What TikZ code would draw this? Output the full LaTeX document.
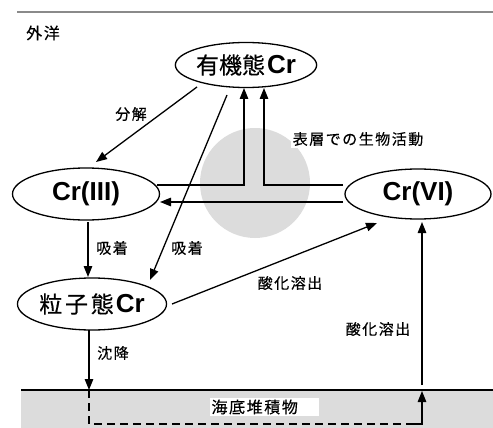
\documentclass[tikz,border=0pt]{standalone}
\usepackage{fontspec}
\setmainfont{Liberation Sans}
\newfontfamily\jp{Noto Sans CJK JP}[FakeBold=0.4]
\newfontfamily\jpl{Noto Sans CJK JP}[LetterSpace=10,FakeBold=0.4]
\usetikzlibrary{arrows.meta,shapes.geometric,calc}
\definecolor{bggray}{HTML}{DCDCDC}
\definecolor{linegray}{HTML}{8A8A8A}
\tikzset{
  ell/.style={ellipse, draw=black, line width=1.3pt, fill=white, inner sep=0pt},
  arr/.style={line width=1.3pt, -{Triangle[length=11pt,width=8.5pt]}},
  lbl/.style={font=\jpl\fontsize{15}{15}\selectfont, inner sep=1pt},
}
\newcommand{\crb}{{\rmfamily\fontsize{26}{26}\selectfont\bfseries Cr}}
\begin{document}
\begin{tikzpicture}[x=1pt,y=-1pt]
\useasboundingbox (0,0) rectangle (493,428);
% sediment
\fill[bggray] (21,390) rectangle (493,428);
\draw[line width=1.5pt] (21,390) -- (493,390);
% top line
\draw[linegray, line width=2pt] (17,12) -- (493,12);
% circle
\fill[bggray] (255,183) circle (55);
% nodes
\node[ell, minimum width=127, minimum height=45] (org) at (246,65) {\jp\fontsize{23}{23}\selectfont 有機態\kern2pt\crb};
\node[ell, minimum width=147, minimum height=52] (cr3) at (86,194) {\fontsize{26}{26}\selectfont\bfseries Cr(III)};
\node[ell, minimum width=146, minimum height=50] (cr6) at (418,194) {\fontsize{26}{26}\selectfont\bfseries Cr(VI)};
\node[ell, minimum width=149, minimum height=52] (part) at (92,304) {\jp\fontsize{23}{23}\selectfont\addfontfeatures{LetterSpace=12}粒子態\kern2pt\crb};
% labels
\node[font=\jpl\fontsize{16}{16}\selectfont, inner sep=0pt] (outer) at (43,33) {外洋};
\node[lbl] (lbunkai) at (131,114) {分解};
\node[lbl, fill=white, inner sep=2pt] (lbio) at (358,139) {表層での生物活動};
\node[lbl] (lads1) at (112,248) {吸着};
\node[lbl] (lads2) at (187,248) {吸着};
\node[lbl] (lox1) at (290,283) {酸化溶出};
\node[lbl] (lox2) at (378,329) {酸化溶出};
\node[lbl] (lsed) at (113,353) {沈降};
\coordinate (sedL) at (89,390);
\coordinate (sedLB) at (89,424);
\coordinate (sedRB) at (422,424);
\coordinate (sedR) at (422,391);
\coordinate (sedRtop) at (422,385);
% connectors
\draw[arr] ($(org.center)+(-49,22)$) -- ($(cr3.center)+(10,-32)$);
\draw[arr] ($(org.center)+(-19,30)$) -- ($(part.center)+(58,-24)$);
\draw[arr] ($(cr3.center)+(71,-9)$) -| ($(org.center)+(-2,23)$);
\draw[arr] ($(cr6.center)+(-75,-9)$) -| ($(org.center)+(18,23)$);
\draw[arr] ($(cr6.center)+(-75,8)$) -- ($(cr3.center)+(74,8)$);
\draw[arr] ($(cr3.center)+(2,28)$) -- ($(part.center)+(-4,-27)$);
\draw[arr] ($(part.center)+(80,0)$) -- ($(cr6.center)+(-41,29)$);
\draw[arr] ($(part.center)+(-3,26)$) -- (sedL);
\draw[line width=1.3pt, dash pattern=on 8pt off 5pt] (sedL) -- (sedLB) -- ($(sedRB)+(-6,0)$);
\draw[arr] ($(sedRB)+(-8,0)$) -- (sedRB) -- (sedR);
\draw[arr] (sedRtop) -- ($(cr6.center)+(4,28)$);
% sediment label
\node[font=\jpl\fontsize{16}{16}\selectfont, fill=white, inner sep=2pt, text width=105, align=left] (sedl) at (264,407) {海底堆積物};
\end{tikzpicture}
\end{document}
